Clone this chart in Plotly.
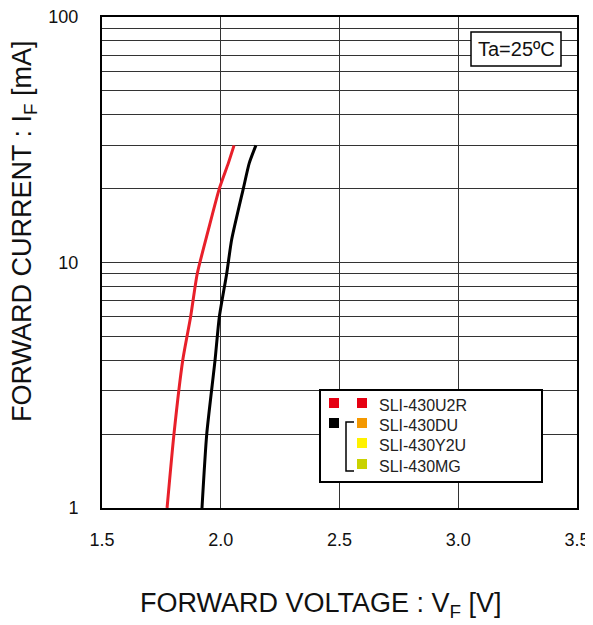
import plotly.graph_objects as go

# forward current [mA] vs forward voltage [V]
red_if = [1, 2, 4, 6, 9, 13.6, 20, 25.4, 30]
red_vf = [1.774, 1.803, 1.840, 1.873, 1.901, 1.948, 1.994, 2.032, 2.056]

black_if = [1, 2, 4, 6, 9, 12.4, 20, 25.4, 30]
black_vf = [1.921, 1.941, 1.976, 1.994, 2.025, 2.046, 2.095, 2.120, 2.148]

x_ticks = [1.5, 2.0, 2.5, 3.0, 3.5]
y_ticks = [1, 2, 3, 4, 5, 6, 7, 8, 9, 10, 20, 30, 40, 50, 60, 70, 80, 90, 100]
y_labels = ["1" if v == 1 else "10" if v == 10 else "100" if v == 100 else "" for v in y_ticks]

legend_names = ["SLI-430U2R", "SLI-430DU", "SLI-430Y2U", "SLI-430MG"]
legend_colors = ["#e60012", "#f39800", "#fff100", "#c9d200"]

RED = "#e8202a"
FONT = "Liberation Sans, Arial, sans-serif"

# page has an 8px body margin, so the figure starts at (8, 8)
OFF = 8
PAGE_W, PAGE_H = 593, 625
W, H = PAGE_W - OFF, PAGE_H - OFF
# plot area in page pixels
L, R, T, B = 102, 577, 17, 508


def px(x):
    return (x - L) / (R - L)


def py(y):
    return (B - y) / (B - T)


fig = go.Figure()
fig.add_trace(go.Scatter(x=red_vf, y=red_if, mode="lines",
                         line=dict(color=RED, width=3, shape="spline", smoothing=0.6),
                         showlegend=False))
fig.add_trace(go.Scatter(x=black_vf, y=black_if, mode="lines",
                         line=dict(color="black", width=3, shape="spline", smoothing=0.6),
                         showlegend=False))

shapes = []
annotations = []

# legend box, drawn by hand because of the bracket
shapes.append(dict(type="rect", xref="paper", yref="paper",
                   x0=px(320), x1=px(542), y0=py(390), y1=py(482),
                   line=dict(color="black", width=2), fillcolor="white", layer="above"))


def square(x, y, color):
    return dict(type="rect", xref="paper", yref="paper",
                x0=px(x), x1=px(x + 10), y0=py(y), y1=py(y + 10),
                line=dict(width=0), fillcolor=color, layer="above")


rows_y = [408, 428, 448, 469]
shapes.append(square(329, 398, legend_colors[0]))
shapes.append(square(329, 418, "black"))
for i, c in enumerate(legend_colors):
    shapes.append(square(357, rows_y[i] - 10, c))
    annotations.append(dict(text=legend_names[i], xref="paper", yref="paper",
                            x=px(377), y=py(rows_y[i] - 3), xanchor="left", yanchor="middle",
                            showarrow=False, font=dict(size=16, color="#222")))

# bracket joining the black curve to its three parts
shapes.append(dict(type="path", xref="paper", yref="paper",
                   path=f"M {px(354)} {py(422)} L {px(346)} {py(422)} L {px(346)} {py(471)} L {px(354)} {py(471)}",
                   line=dict(color="black", width=1.5), layer="above"))

# temperature box
shapes.append(dict(type="rect", xref="paper", yref="paper",
                   x0=px(471), x1=px(561), y0=py(32), y1=py(66),
                   line=dict(color="black", width=1.5), fillcolor="white", layer="above"))
annotations.append(dict(text="Ta=25ºC", xref="paper", yref="paper",
                        x=px(516), y=py(49), xanchor="center", yanchor="middle",
                        showarrow=False, font=dict(size=20, color="#111")))

# axis titles
annotations.append(dict(text="FORWARD VOLTAGE : V<sub>F</sub> [V]", xref="paper", yref="paper",
                        x=px(321), y=py(605), xanchor="center", yanchor="middle",
                        showarrow=False, font=dict(size=27, color="#111")))
annotations.append(dict(text="FORWARD CURRENT : I<sub>F</sub> [mA]", xref="paper", yref="paper",
                        x=px(24), y=py(231), xanchor="center", yanchor="middle", textangle=-90,
                        showarrow=False, font=dict(size=27, color="#111")))

fig.update_layout(
    width=W, height=H,
    margin=dict(l=L - OFF, r=PAGE_W - R, t=T - OFF, b=H + OFF - B, autoexpand=False),
    paper_bgcolor="white", plot_bgcolor="white",
    font=dict(family=FONT, color="#111"),
    shapes=shapes, annotations=annotations,
)
fig.update_xaxes(range=[1.5, 3.5], tickvals=x_ticks, ticktext=[f"{v:.1f}" for v in x_ticks],
                 showgrid=True, gridcolor="#333", gridwidth=1, zeroline=False,
                 showline=True, linecolor="black", linewidth=2, mirror=True, automargin=False,
                 ticks="", tickfont=dict(size=18), ticklabelstandoff=14, ticklabeloverflow="allow")
fig.update_yaxes(type="log", range=[0, 2], tickvals=y_ticks, ticktext=y_labels,
                 showgrid=True, gridcolor="#333", gridwidth=1, zeroline=False,
                 showline=True, linecolor="black", linewidth=2, mirror=True, automargin=False,
                 ticks="", tickfont=dict(size=18), ticklabelstandoff=18, ticklabeloverflow="allow")

fig.write_html("out.html")
